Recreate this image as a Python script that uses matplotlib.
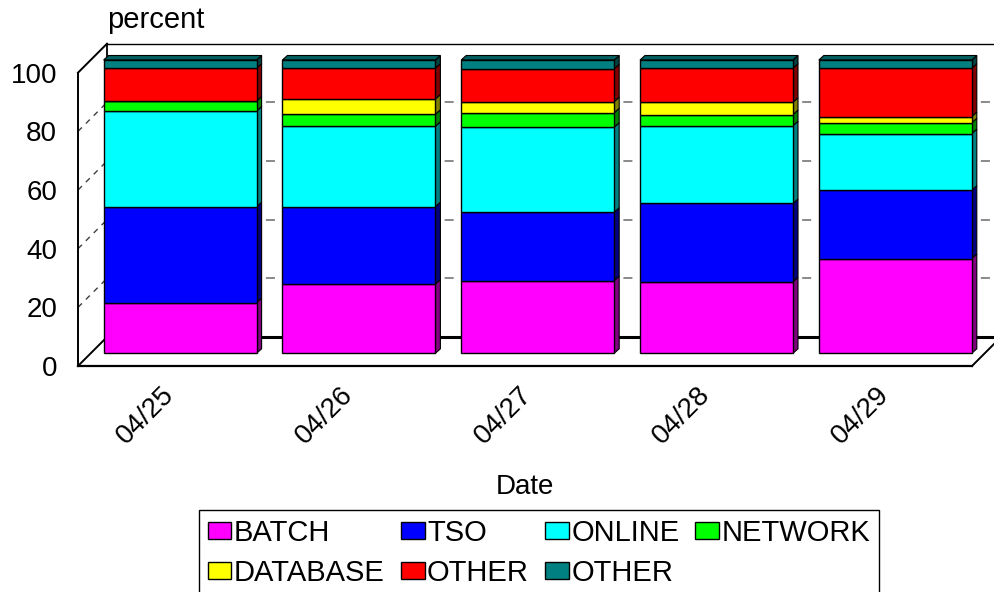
import numpy as np
import matplotlib.pyplot as plt
from matplotlib.patches import Polygon
from matplotlib.transforms import ScaledTranslation

plt.rcParams['font.family'] = ['Liberation Sans', 'DejaVu Sans']

# data (percent of each day)
dates = ['04/25', '04/26', '04/27', '04/28', '04/29']
series = ['BATCH', 'TSO', 'ONLINE', 'NETWORK', 'DATABASE', 'OTHER', 'OTHER']
batch = [17.3, 23.6, 24.8, 24.4, 32.3]
tso = [32.7, 26.4, 23.3, 26.7, 23.3]
online = [32.6, 27.4, 29.0, 26.5, 19.3]
network = [3.4, 4.1, 4.9, 3.8, 3.7]
database = [0.0, 5.2, 3.8, 4.2, 2.1]
other = [11.2, 10.5, 11.2, 11.6, 16.5]
other_2 = [2.8, 2.8, 3.0, 2.8, 2.8]
values = [batch, tso, online, network, database, other, other_2]

face_colors = ['#ff00ff', '#0000ff', '#00ffff', '#00ff00', '#ffff00', '#ff0000', '#008080']
side_colors = ['#800080', '#000080', '#008080', '#008000', '#808000', '#800000', '#004040']
top_color = '#006060'

W, H = 995, 592
fig = plt.figure(figsize=(W / 100, H / 100), dpi=100)

# three planes of the fake 3d box: back wall, bars, front edge (pixels)
plane_w, plane_h = 894, 293.3
def place(left, base):
    return [left / W, (H - base) / H, plane_w / W, plane_h / H]

ax_back = fig.add_axes(place(107, 337))
ax = fig.add_axes(place(90.7, 353.3))
ax_front = fig.add_axes(place(78, 366))
ax_back.set_zorder(0)
ax.set_zorder(1)
ax_front.set_zorder(2)

for a in (ax_back, ax, ax_front):
    a.set_xlim(-0.5, len(dates) - 0.5)
    a.set_ylim(0, 100)

px_x = plane_w / len(dates)
px_y = plane_h / 100
# offsets from bar plane to front / back planes, in data units
fdx, fdy = (78 - 90.7) / px_x, -(366 - 353.3) / px_y
bdx, bdy = (107 - 90.7) / px_x, (353.3 - 337) / px_y
# bar depth
d_x, d_y = 5 / px_x, 4.5 / px_y

# back wall
ax_back.set_xticks([])
ax_back.set_yticks([20, 40, 60, 80])
ax_back.tick_params(length=0, labelleft=False)
ax_back.grid(axis='y', color='#808080', linestyle=(0, (5, 6)), linewidth=1.3)
ax_back.spines['top'].set_linewidth(1)
ax_back.spines['left'].set_linewidth(1.3)
ax_back.spines['bottom'].set_linewidth(2.2)
ax_back.set_title('percent', loc='left', fontsize=21, pad=11)

# left wall and floor edges
x0, x1 = -0.5, len(dates) - 0.5
edge = dict(color='black', lw=1.4, clip_on=False, zorder=1)
ax.plot([x0 + fdx, x0 + bdx], [100 + fdy, 100 + bdy], **edge)
ax.plot([x0 + fdx, x0 + bdx], [fdy, bdy], **edge)
ax.plot([x1 + fdx, x1 + bdx], [fdy, bdy], **edge)
for g in [20, 40, 60, 80]:
    ax.plot([x0 + fdx, x0 + bdx], [g + fdy, g + bdy], color='#404040', lw=1,
            linestyle=(0, (4, 4)), clip_on=False, zorder=1)

# stacked bars with side and top faces
x = np.arange(len(dates))
bar_w = 153 / px_x
bottom = np.zeros(len(dates))
handles = []
for vals, fc, sc, name in zip(values, face_colors, side_colors, series):
    vals = np.array(vals)
    bars = ax.bar(x, vals, bar_w, bottom=bottom, color=fc, edgecolor='black',
                  linewidth=1, clip_on=False, label=name, zorder=3)
    handles.append(bars)
    for xi, b, v in zip(x, bottom, vals):
        if v <= 0:
            continue
        xr = xi + bar_w / 2
        ax.add_patch(Polygon([(xr, b), (xr + d_x, b + d_y), (xr + d_x, b + v + d_y), (xr, b + v)],
                             closed=True, facecolor=sc, edgecolor='black', lw=0.8,
                             clip_on=False, zorder=2.5))
    bottom += vals
for xi, b in zip(x, bottom):
    xl, xr = xi - bar_w / 2, xi + bar_w / 2
    ax.add_patch(Polygon([(xl, b), (xl + d_x, b + d_y), (xr + d_x, b + d_y), (xr, b)],
                         closed=True, facecolor=top_color, edgecolor='black', lw=0.8,
                         clip_on=False, zorder=2.5))

for s in ax.spines.values():
    s.set_visible(False)
ax.patch.set_visible(False)
ax.set_yticks([])
ax.set_xticks(x, dates, rotation=45, ha='right', va='center', rotation_mode='anchor', fontsize=20)
ax.tick_params(length=0, pad=27)
shift = ScaledTranslation(-10 / 100, 0, fig.dpi_scale_trans)
for lab in ax.get_xticklabels():
    lab.set_transform(lab.get_transform() + shift)

# front edge with y labels
ax_front.patch.set_visible(False)
ax_front.spines['top'].set_visible(False)
ax_front.spines['right'].set_visible(False)
ax_front.spines['left'].set_linewidth(1.4)
ax_front.spines['bottom'].set_linewidth(1.6)
ax_front.set_xticks([])
ax_front.set_yticks([0, 20, 40, 60, 80, 100])
ax_front.tick_params(length=0, pad=15, labelsize=20)
ax_front.set_xlabel('Date', fontsize=20, labelpad=78)

# legend, filled row by row
order = [0, 4, 1, 5, 2, 6, 3]
leg = fig.legend([handles[i] for i in order], [series[i] for i in order],
                 loc='upper center', bbox_to_anchor=(539 / W, 1 - 510 / H), ncol=4,
                 fontsize=21, fancybox=False, edgecolor='black', framealpha=1,
                 handlelength=0.82, handleheight=0.55, handletextpad=0.08,
                 columnspacing=0.55, borderpad=0.3, labelspacing=0.42, borderaxespad=0)
leg.get_frame().set_linewidth(1)

fig.savefig('out.png', dpi=100)
